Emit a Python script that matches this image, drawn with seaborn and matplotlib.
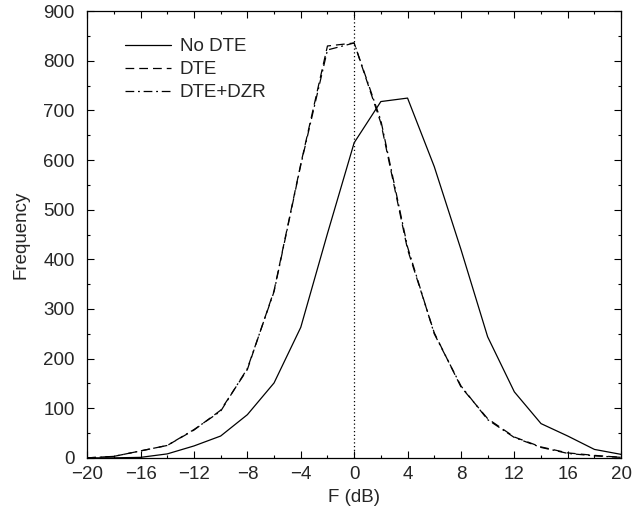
import numpy as np
import pandas as pd
import matplotlib
matplotlib.use("Agg")
import matplotlib.pyplot as plt
from matplotlib.ticker import MultipleLocator
import seaborn as sns

# valores
f_db = [-20, -18, -16, -14, -12, -10, -8, -6, -4, -2, 0, 2, 4, 6, 8, 10, 12, 14, 16, 18, 20]
no_dte = [0, 0, 1, 8, 24, 44, 87, 151, 263, 452, 635, 718, 725, 587, 420, 244, 133, 69, 44, 17, 7]
dte = [0, 3, 14, 25, 56, 96, 178, 337, 592, 830, 836, 675, 420, 252, 143, 79, 42, 22, 10, 5, 1]
dte_dzr = [0, 3, 14, 25, 57, 94, 180, 335, 590, 822, 836, 680, 425, 250, 145, 77, 41, 21, 9, 4, 1]

series = ["No DTE", "DTE", "DTE+DZR"]

df = pd.DataFrame({
    "F": f_db * 3,
    "freq": no_dte + dte + dte_dzr,
    "serie": np.repeat(series, len(f_db)),
})

sns.set_style("ticks")
plt.rcParams["font.family"] = ["Liberation Sans", "DejaVu Sans"]
fs = 13.5

fig = plt.figure(figsize=(6.41, 5.11), dpi=100)
ax = fig.add_axes([0.136, 0.104, 0.833, 0.874])

# línea de referencia en 0 dB
ax.axvline(0, color="black", linestyle=(0, (1, 2)), linewidth=0.9)

sns.lineplot(data=df, x="F", y="freq", hue="serie", style="serie",
             hue_order=series, style_order=series,
             palette=["black"] * 3,
             dashes=["", (7, 4), (7, 3, 1.5, 3)],
             linewidth=0.9, ax=ax)

ax.set_xlim(-20, 20)
ax.set_ylim(0, 900)
ax.xaxis.set_major_locator(MultipleLocator(4))
ax.xaxis.set_minor_locator(MultipleLocator(2))
ax.yaxis.set_major_locator(MultipleLocator(100))
ax.yaxis.set_minor_locator(MultipleLocator(50))
ax.tick_params(which="both", direction="in", top=True, right=True,
               labelsize=fs, width=0.8, color="black")
ax.tick_params(which="major", length=5)
ax.tick_params(which="minor", length=2.5)
ax.tick_params(axis="x", which="both", pad=6)
ax.tick_params(axis="y", which="both", pad=9)
for s in ax.spines.values():
    s.set_linewidth(0.9)
    s.set_color("black")

ax.set_xlabel("F (dB)", fontsize=fs, labelpad=4)
ax.set_ylabel("Frequency", fontsize=fs, labelpad=10)

ax.legend(loc="upper left", bbox_to_anchor=(0.07, 0.94), frameon=False,
          fontsize=fs, handlelength=2.5, handletextpad=0.45,
          labelspacing=0.32, borderaxespad=0, borderpad=0)

fig.savefig("out.png", dpi=100)
